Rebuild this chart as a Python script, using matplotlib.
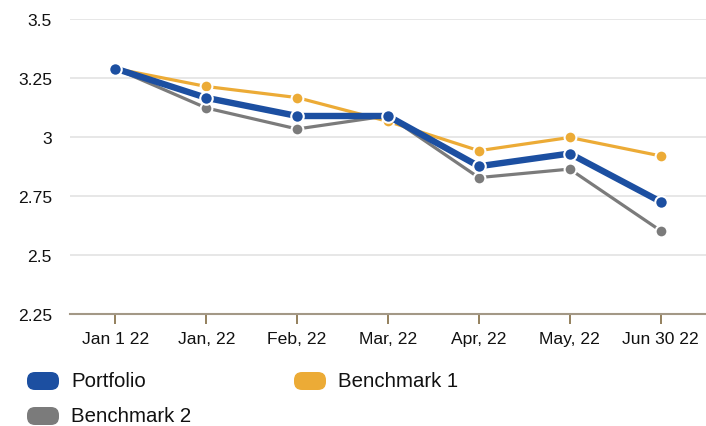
import matplotlib.pyplot as plt
from matplotlib.patches import FancyBboxPatch
from matplotlib.transforms import IdentityTransform

plt.rcParams["font.family"] = ["Liberation Sans", "DejaVu Sans"]

dates = ["Jan 1 22", "Jan, 22", "Feb, 22", "Mar, 22", "Apr, 22", "May, 22", "Jun 30 22"]
portfolio = [3.29, 3.166, 3.089, 3.089, 2.876, 2.93, 2.726]
benchmark_1 = [3.29, 3.214, 3.167, 3.066, 2.942, 2.998, 2.92]
benchmark_2 = [3.29, 3.123, 3.034, 3.09, 2.828, 2.864, 2.603]
y_ticks = [2.25, 2.5, 2.75, 3, 3.25, 3.5]
y_labels = ["2.25", "2.5", "2.75", "3", "3.25", "3.5"]

blue = "#1c4fa1"
orange = "#ecab36"
gray = "#7b7b7b"

W, H = 706, 427
fig = plt.figure(figsize=(W / 100, H / 100), dpi=100)
ax = fig.add_axes([70 / W, 112 / H, 636 / W, 295 / H])

x = list(range(len(dates)))
ax.plot(x, benchmark_2, color=gray, lw=2.3, marker="o", ms=8.5,
        mec="white", mew=1.5, zorder=3)
ax.plot(x, benchmark_1, color=orange, lw=2.3, marker="o", ms=8.5,
        mec="white", mew=1.5, zorder=4)
ax.plot(x, portfolio, color=blue, lw=4.6, marker="o", ms=9,
        mec="white", mew=1.5, zorder=5)

ax.set_xlim(-0.5, 6.5)
ax.set_ylim(2.25, 3.5)
ax.set_xticks(x)
ax.set_xticklabels(dates)
ax.set_yticks(y_ticks)
ax.set_yticklabels(y_labels)
ax.grid(axis="y", color="#e3e3e3", lw=1.2)
ax.set_axisbelow(True)

for side in ["top", "right", "left"]:
    ax.spines[side].set_visible(False)
ax.spines["bottom"].set_color("#a39886")
ax.spines["bottom"].set_linewidth(1.5)

ax.tick_params(axis="x", length=7.5, width=1.3, color="#8b7650",
               labelsize=12.6, pad=5, labelcolor="#111111")
ax.tick_params(axis="y", length=0, labelsize=12.6, pad=13,
               labelcolor="#111111")

# legend drawn by hand: rounded swatches + labels (pixel positions)
legend_items = [
    ("Portfolio", blue, 27, 382),
    ("Benchmark 1", orange, 294, 382),
    ("Benchmark 2", gray, 27, 417),
]
for label, color, px, py in legend_items:
    box = FancyBboxPatch((px, H - py - 9), 32, 18,
                         boxstyle="round,pad=0,rounding_size=8",
                         transform=IdentityTransform(), fc=color, lw=0)
    fig.patches.append(box)
    fig.text((px + 44) / W, 1 - py / H, label, fontsize=14.7,
             va="center", ha="left", color="#111111")

fig.savefig("out.png", dpi=100)
